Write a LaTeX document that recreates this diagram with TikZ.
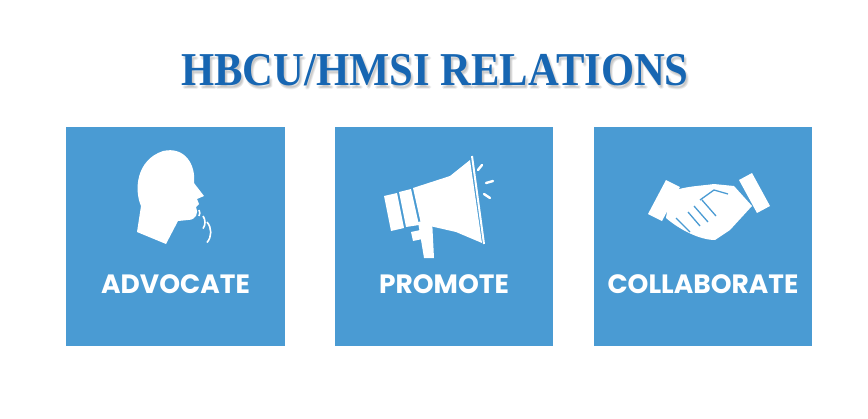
\documentclass[tikz,border=0pt]{standalone}
\usepackage{fontspec}
\setmainfont{Liberation Serif}
\newfontfamily\pop{Poppins}
\definecolor{boxblue}{HTML}{4A9BD3}
\definecolor{titleblue}{HTML}{1766B2}
\begin{document}
\begin{tikzpicture}[x=1pt,y=-1pt,
  panel/.style={fill=boxblue,draw=none},
  lab/.style={text=white,font=\pop\bfseries\fontsize{26.5}{30}\selectfont,anchor=center},
  ttl/.style={font=\bfseries\fontsize{41}{44}\selectfont,xscale=1.04,yscale=1.15},
  ico/.style={fill=white,draw=none}]
\useasboundingbox (0,0) rectangle (868,418);
\foreach \dx/\dy in {2/4,3/3,1/3,2/2}
  \node[ttl,text=black,opacity=0.06] at (435+\dx,70+\dy) {HBCU/HMSI RELATIONS};
\node (title) [ttl,text=titleblue] at (435,70) {HBCU/HMSI RELATIONS};
\fill[panel] (66,127) rectangle (285,346) coordinate (b1);
\fill[panel] (335,127) rectangle (553,346) coordinate (b2);
\fill[panel] (594,127) rectangle (812,346) coordinate (b3);
\node (l1) [lab] at (175.5,284) {ADVOCATE};
\node (l2) [lab] at (444,284) {PROMOTE};
\node (l3) [lab] at (703,284) {COLLABORATE};
% head
\fill[ico] (137,232) -- (141,206) .. controls (134,190) and (136,160) .. (163,151)
  .. controls (185,146) and (196,165) .. (194,183) -- (204,196) -- (197,199)
  -- (199,204) -- (196,207) .. controls (199,213) and (196,220) .. (188,220)
  -- (178,221) -- (166,244) -- cycle;
\draw[white,line width=1.6pt] (199,210) arc[start angle=-30,end angle=30,radius=6];
\draw[white,line width=1.6pt] (203,216) arc[start angle=-35,end angle=35,radius=11];
\draw[white,line width=1.6pt] (207,222) arc[start angle=-40,end angle=40,radius=16];
% megaphone
\fill[ico] (384,196) -- (397,193) -- (404,228) -- (391,231) -- cycle;
\fill[ico] (399,192) -- (411,189) -- (419,225) -- (406,227) -- cycle;
\fill[ico] (413,188) -- (450,176) -- (470,160) -- (482,243) -- (456,232) -- (421,224) -- cycle;
\draw[white,line width=2pt] (472,156) -- (484,244);
\fill[ico] (418,222) -- (432,219) -- (434,258) -- (424,258) -- cycle;
\fill[ico] (411,232) -- (425,229) -- (427,238) -- (413,241) -- cycle;
\draw[white,line width=2.4pt,line cap=round] (478,170) -- (482,165)
  (486,183) -- (493,181) (484,194) -- (490,198);
% handshake
\fill[ico] (648,214) -- (666,180) -- (680,187) -- (662,221) -- cycle;
\fill[ico] (752,173) -- (770,206) -- (757,213) -- (739,180) -- cycle;
\fill[ico] (670,192) .. controls (685,186) and (700,186) .. (714,184)
  -- (734,186) -- (752,206) -- (730,230) -- (715,240)
  .. controls (700,240) and (680,230) .. (666,218) -- cycle;
\draw[boxblue,line width=1.3pt] (700,200) -- (714,190) -- (728,194)
  (688,212) -- (700,226) (694,206) -- (708,222) (702,200) -- (716,216) (676,218) -- (690,232);
\end{tikzpicture}
\end{document}
